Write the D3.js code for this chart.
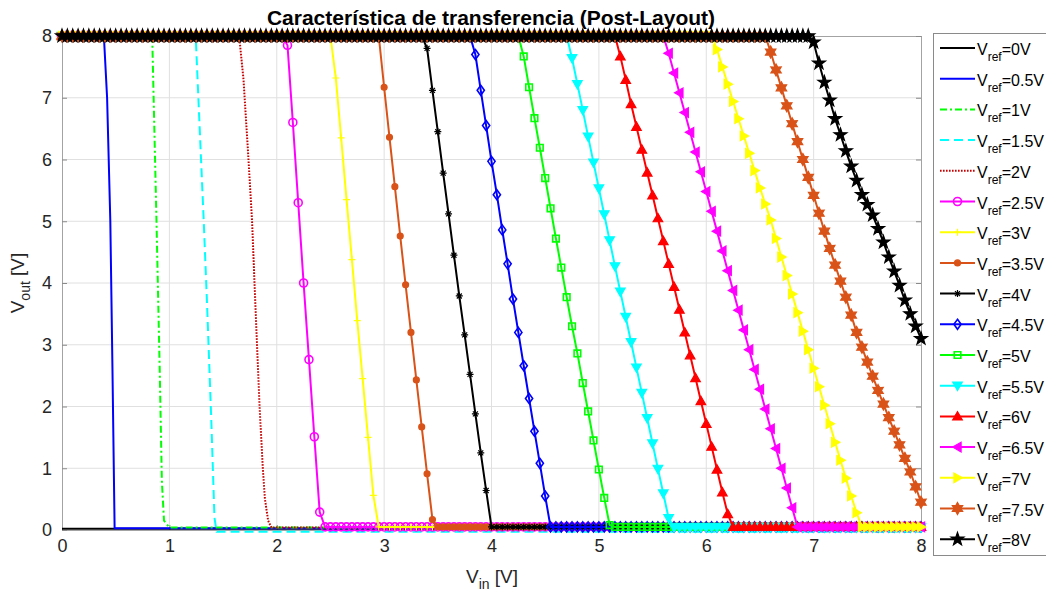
<!DOCTYPE html>
<html>
<head>
<meta charset="utf-8">
<script src="https://cdn.jsdelivr.net/npm/d3@7"></script>
<style>
  body { margin: 0; background: #fff; }
  svg text { font-family: "Liberation Sans", Arial, Helvetica, sans-serif; }
</style>
</head>
<body>
<div id="chart"></div>
<script>
// Vin sweep of the post-layout simulation: 0 .. 8 V, 0.05 V step
const vinSweep = d3.range(0, 161).map((i) => i / 20);

const vrefLabels = ["0V", "0.5V", "1V", "1.5V", "2V", "2.5V", "3V", "3.5V", "4V",
  "4.5V", "5V", "5.5V", "6V", "6.5V", "7V", "7.5V", "8V"];

// output level before and after the switching edge
const highLevel = [8, 8, 8, 8, 8, 8, 8, 8, 8, 8, 8, 8, 8, 8, 8, 8, 8];
const lowLevel = [0.02, 0.03, 0.04, -0.03, 0.04, 0.05, 0.05, 0.05, 0.05,
  0.05, 0.05, 0.04, 0.05, 0.05, 0.05, 0.05, 0.05];

// falling edge of each curve, [Vin, Vout]
const dropEdges = [
  [[0, 0.02]],
  [[0.39, 8], [0.42, 7.0], [0.45, 5.0], [0.47, 2.6], [0.49, 0.03]],
  [[0.84, 8], [0.86, 6.5], [0.88, 5.0], [0.91, 2.6], [0.93, 0.8], [0.95, 0.15], [1.0, 0.04]],
  [[1.245, 8], [1.28, 6.6], [1.32, 5.0], [1.35, 3.7], [1.39, 1.8], [1.42, 0.2], [1.44, -0.03]],
  [[1.65, 8], [1.69, 7.3], [1.73, 6.2], [1.77, 5.0], [1.8, 3.7], [1.84, 2.0], [1.87, 1.0],
    [1.89, 0.5], [1.92, 0.15], [1.95, 0.04]],
  [[2.05, 8], [2.1, 7.85], [2.15, 6.6], [2.2, 5.3], [2.25, 4.0], [2.3, 2.76], [2.35, 1.51],
    [2.4, 0.29], [2.45, 0.05]],
  [[2.5, 8], [2.55, 7.32], [2.6, 6.35], [2.65, 5.35], [2.7, 4.38], [2.75, 3.39], [2.8, 2.45],
    [2.85, 1.5], [2.9, 0.56], [2.95, 0.05]],
  [[2.95, 8], [3.0, 7.17], [3.05, 6.36], [3.1, 5.56], [3.15, 4.76], [3.2, 3.97], [3.25, 3.2],
    [3.3, 2.43], [3.35, 1.67], [3.4, 0.91], [3.45, 0.17], [3.5, 0.05]],
  [[3.35, 8], [3.4, 7.8], [3.45, 7.12], [3.5, 6.45], [3.55, 5.78], [3.6, 5.12], [3.65, 4.45],
    [3.7, 3.79], [3.75, 3.16], [3.8, 2.52], [3.85, 1.88], [3.9, 1.25], [3.95, 0.64], [4.0, 0.05]],
  [[3.8, 8], [3.85, 7.7], [3.9, 7.12], [3.95, 6.55], [4.0, 5.97], [4.05, 5.43], [4.1, 4.86],
    [4.15, 4.31], [4.2, 3.74], [4.25, 3.2], [4.3, 2.66], [4.35, 2.13], [4.4, 1.6], [4.45, 1.08],
    [4.5, 0.55], [4.55, 0.05]],
  [[4.25, 8], [4.3, 7.67], [4.35, 7.17], [4.4, 6.67], [4.45, 6.19], [4.5, 5.7], [4.55, 5.21],
    [4.6, 4.72], [4.65, 4.25], [4.7, 3.77], [4.75, 3.3], [4.8, 2.86], [4.85, 2.38], [4.9, 1.92],
    [4.95, 1.45], [5.0, 0.98], [5.05, 0.52], [5.1, 0.08]],
  [[4.7, 8], [4.75, 7.64], [4.8, 7.22], [4.85, 6.8], [4.9, 6.37], [4.95, 5.95], [5.0, 5.53],
    [5.05, 5.11], [5.1, 4.69], [5.15, 4.27], [5.2, 3.86], [5.25, 3.45], [5.3, 3.04], [5.35, 2.63],
    [5.4, 2.22], [5.45, 1.81], [5.5, 1.4], [5.55, 0.99], [5.6, 0.59], [5.65, 0.19], [5.7, 0.04]],
  [[5.15, 8], [5.2, 7.67], [5.25, 7.29], [5.3, 6.9], [5.35, 6.53], [5.4, 6.16], [5.45, 5.79],
    [5.5, 5.42], [5.55, 5.05], [5.6, 4.68], [5.65, 4.31], [5.7, 3.94], [5.75, 3.57], [5.8, 3.2],
    [5.85, 2.83], [5.9, 2.46], [5.95, 2.09], [6.0, 1.72], [6.05, 1.35], [6.1, 0.98], [6.15, 0.61],
    [6.2, 0.26], [6.25, 0.05]],
  [[5.6, 8], [5.65, 7.72], [5.7, 7.4], [5.75, 7.08], [5.8, 6.76], [5.85, 6.44], [5.9, 6.12],
    [5.95, 5.8], [6.0, 5.48], [6.05, 5.16], [6.1, 4.84], [6.15, 4.52], [6.2, 4.2], [6.25, 3.88],
    [6.3, 3.56], [6.35, 3.24], [6.4, 2.92], [6.45, 2.6], [6.5, 2.28], [6.55, 1.96], [6.6, 1.64],
    [6.65, 1.32], [6.7, 1.0], [6.75, 0.68], [6.8, 0.36], [6.85, 0.05]],
  [[6.05, 8], [6.1, 7.78], [6.15, 7.5], [6.2, 7.22], [6.25, 6.94], [6.3, 6.66], [6.35, 6.38],
    [6.4, 6.1], [6.45, 5.82], [6.5, 5.54], [6.55, 5.28], [6.6, 5.02], [6.65, 4.72], [6.7, 4.42],
    [6.75, 4.12], [6.8, 3.82], [6.85, 3.52], [6.9, 3.22], [6.95, 2.92], [7.0, 2.62], [7.05, 2.32],
    [7.1, 2.02], [7.15, 1.72], [7.2, 1.42], [7.25, 1.13], [7.3, 0.84], [7.35, 0.55], [7.4, 0.28],
    [7.45, 0.05]],
  [[6.55, 8], [6.6, 7.74], [6.65, 7.45], [6.7, 7.16], [6.75, 6.87], [6.8, 6.58], [6.85, 6.29],
    [6.9, 6.0], [6.95, 5.71], [7.0, 5.42], [7.05, 5.13], [7.1, 4.84], [7.15, 4.56], [7.2, 4.29],
    [7.25, 4.03], [7.3, 3.77], [7.35, 3.48], [7.4, 3.2], [7.45, 2.96], [7.5, 2.72], [7.55, 2.49],
    [7.6, 2.26], [7.65, 2.04], [7.7, 1.82], [7.75, 1.6], [7.8, 1.38], [7.85, 1.16], [7.9, 0.94],
    [7.95, 0.7], [8.0, 0.45]],
  [[6.95, 8], [7.0, 7.9], [7.05, 7.56], [7.1, 7.25], [7.15, 6.96], [7.2, 6.66], [7.25, 6.4],
    [7.3, 6.14], [7.35, 5.89], [7.4, 5.66], [7.45, 5.43], [7.5, 5.27], [7.55, 5.1], [7.6, 4.88],
    [7.65, 4.66], [7.7, 4.42], [7.75, 4.19], [7.8, 3.96], [7.85, 3.72], [7.9, 3.5], [7.95, 3.3],
    [8.0, 3.1]],
];

const xTicks = [0, 1, 2, 3, 4, 5, 6, 7, 8];
const yTicks = [0, 1, 2, 3, 4, 5, 6, 7, 8];

class TransferChart {
  constructor(_config) {
    this.config = {
      parentElement: _config.parentElement,
      containerWidth: 1046,
      containerHeight: 593,
      margin: { top: 36, right: 125, bottom: 63, left: 62 },
    };
    // line colour, dash pattern and marker of each Vref curve
    this.styles = [
      { color: "#000000", dash: null, marker: null },
      { color: "#0000ff", dash: null, marker: null },
      { color: "#00ff00", dash: "7,3,2,3", marker: null },
      { color: "#00ffff", dash: "9,5", marker: null },
      { color: "#c80000", dash: "1.6,1.4", marker: null },
      { color: "#ff00ff", dash: null, marker: "o" },
      { color: "#ffff00", dash: null, marker: "+" },
      { color: "#d95319", dash: null, marker: "." },
      { color: "#000000", dash: null, marker: "*" },
      { color: "#0000ff", dash: null, marker: "d" },
      { color: "#00ff00", dash: null, marker: "s" },
      { color: "#00ffff", dash: null, marker: "v" },
      { color: "#ff0000", dash: null, marker: "^" },
      { color: "#ff00ff", dash: null, marker: "<" },
      { color: "#ffff00", dash: null, marker: ">" },
      { color: "#d95319", dash: null, marker: "h" },
      { color: "#000000", dash: null, marker: "p" },
    ];
    this.initVis();
  }

  initVis() {
    let vis = this;
    const m = vis.config.margin;
    vis.config.width = vis.config.containerWidth - m.left - m.right;
    vis.config.height = vis.config.containerHeight - m.top - m.bottom;

    vis.xScale = d3.scaleLinear().domain([0, 8]).range([0, 859]);
    vis.yScale = d3.scaleLinear().domain([0, 8]).range([494, 0]);

    vis.svg = d3
      .select(vis.config.parentElement)
      .append("svg")
      .attr("width", vis.config.containerWidth)
      .attr("height", vis.config.containerHeight);

    vis.chart = vis.svg
      .append("g")
      .attr("transform", `translate(${m.left},${m.top})`);

    // grid
    vis.chart
      .append("g")
      .selectAll("line.gx")
      .data(xTicks.slice(1, -1))
      .join("line")
      .attr("x1", (d) => vis.xScale(d))
      .attr("x2", (d) => vis.xScale(d))
      .attr("y1", 0)
      .attr("y2", vis.yScale(0))
      .attr("stroke", "#e0e0e0");
    vis.chart
      .append("g")
      .selectAll("line.gy")
      .data(yTicks.slice(1, -1))
      .join("line")
      .attr("x1", 0)
      .attr("x2", vis.xScale(8))
      .attr("y1", (d) => vis.yScale(d))
      .attr("y2", (d) => vis.yScale(d))
      .attr("stroke", "#e0e0e0");

    // axes with inward ticks, box on all four sides
    const styleAxis = (g) => {
      g.select(".domain").attr("stroke", "#a3a3a3");
      g.selectAll(".tick line").attr("stroke", "#8a8a8a");
      g.selectAll(".tick text")
        .attr("fill", "#262626")
        .style("font-size", "18px");
    };
    vis.chart
      .append("g")
      .attr("transform", `translate(0,${vis.yScale(0)})`)
      .call(d3.axisBottom(vis.xScale).tickValues(xTicks).tickSizeInner(-5).tickSizeOuter(0).tickPadding(9))
      .call(styleAxis);
    vis.chart
      .append("g")
      .call(d3.axisLeft(vis.yScale).tickValues(yTicks).tickSizeInner(-5).tickSizeOuter(0).tickPadding(10))
      .call(styleAxis);
    vis.chart
      .append("g")
      .call(d3.axisTop(vis.xScale).tickValues(xTicks).tickSizeInner(-5).tickSizeOuter(0).tickFormat(""))
      .call(styleAxis);
    vis.chart
      .append("g")
      .attr("transform", `translate(${vis.xScale(8)},0)`)
      .call(d3.axisRight(vis.yScale).tickValues(yTicks).tickSizeInner(-5).tickSizeOuter(0).tickFormat(""))
      .call(styleAxis);

    // title and axis labels
    vis.svg
      .append("text")
      .attr("x", 491)
      .attr("y", 25)
      .attr("text-anchor", "middle")
      .attr("font-weight", "bold")
      .attr("font-size", "21px")
      .attr("fill", "#000")
      .text("Característica de transferencia (Post-Layout)");

    const xLabel = vis.svg
      .append("text")
      .attr("x", 492)
      .attr("y", 583)
      .attr("text-anchor", "middle")
      .attr("font-size", "19px")
      .attr("fill", "#262626");
    xLabel.append("tspan").text("V");
    xLabel.append("tspan").attr("dy", 6).attr("font-size", "14px").text("in");
    xLabel.append("tspan").attr("dy", -6).text(" [V]");

    const yLabel = vis.svg
      .append("text")
      .attr("transform", "translate(24,283) rotate(-90)")
      .attr("text-anchor", "middle")
      .attr("font-size", "19px")
      .attr("fill", "#262626");
    yLabel.append("tspan").text("V");
    yLabel.append("tspan").attr("dy", 6).attr("font-size", "14px").text("out");
    yLabel.append("tspan").attr("dy", -6).text(" [V]");

    vis.plot = vis.chart.append("g");
    vis.legend = vis.svg.append("g");
  }

  updateVis() {
    let vis = this;
    // high level until the edge, the read edge, then the low level
    vis.series = dropEdges.map((edge, i) => {
      const first = edge[0][0];
      const last = edge[edge.length - 1][0];
      const before = vinSweep.filter((v) => v < first - 1e-9).map((v) => [v, highLevel[i]]);
      const after = vinSweep.filter((v) => v > last + 1e-9).map((v) => [v, lowLevel[i]]);
      return { label: vrefLabels[i], style: vis.styles[i], points: before.concat(edge, after) };
    });
    vis.renderVis();
  }

  markerPath(type) {
    const star = (n, R, r) => {
      const pts = [];
      for (let k = 0; k < 2 * n; k++) {
        const a = -Math.PI / 2 + (k * Math.PI) / n;
        const rad = k % 2 === 0 ? R : r;
        pts.push([rad * Math.cos(a), rad * Math.sin(a)]);
      }
      return "M" + pts.map((p) => p[0].toFixed(2) + "," + p[1].toFixed(2)).join("L") + "Z";
    };
    switch (type) {
      case "o": return d3.symbol(d3.symbolCircle, 50)();
      case ".": return d3.symbol(d3.symbolCircle, 28)();
      case "+": return "M-3.5,0H3.5M0,-3.5V3.5";
      case "*": return "M-3.5,0H3.5M0,-3.5V3.5M-2.5,-2.5L2.5,2.5M-2.5,2.5L2.5,-2.5";
      case "d": return "M0,-5L3.6,0L0,5L-3.6,0Z";
      case "s": return "M-3.3,-3.3H3.3V3.3H-3.3Z";
      case "v": return "M-4.8,-3.6L4.8,-3.6L0,4.8Z";
      case "^": return "M-4.8,3.6L4.8,3.6L0,-4.8Z";
      case "<": return "M3.6,-4.8L3.6,4.8L-4.8,0Z";
      case ">": return "M-3.6,-4.8L-3.6,4.8L4.8,0Z";
      case "h": return star(6, 6, 3.4);
      case "p": return star(5, 6.8, 2.7);
    }
    return null;
  }

  markerFill(type, color) {
    return ["o", "+", "*", "d", "s"].includes(type) ? "none" : color;
  }

  drawMarkers(g, points, style, x, y) {
    let vis = this;
    g.selectAll("path.mk")
      .data(points)
      .join("path")
      .attr("class", "mk")
      .attr("transform", (d) => `translate(${x(d)},${y(d)})`)
      .attr("d", vis.markerPath(style.marker))
      .attr("fill", vis.markerFill(style.marker, style.color))
      .attr("stroke", style.color)
      .attr("stroke-width", ["o", "d", "s"].includes(style.marker) ? 1.6 : 1.2);
  }

  renderVis() {
    let vis = this;
    const line = d3
      .line()
      .x((d) => vis.xScale(d[0]))
      .y((d) => vis.yScale(d[1]));

    const groups = vis.plot
      .selectAll("g.series")
      .data(vis.series)
      .join("g")
      .attr("class", "series");

    groups.each(function (s) {
      const g = d3.select(this);
      g.append("path")
        .attr("d", line(s.points))
        .attr("fill", "none")
        .attr("stroke", s.style.color)
        .attr("stroke-width", 2)
        .attr("stroke-dasharray", s.style.dash);
      if (s.style.marker) {
        vis.drawMarkers(g, s.points, s.style,
          (d) => vis.xScale(d[0]), (d) => vis.yScale(d[1]));
      }
    });

    // legend box
    const top = 33;
    const step = 30.7;
    vis.legend
      .append("rect")
      .attr("x", 933.5)
      .attr("y", top + 0.5)
      .attr("width", 140)
      .attr("height", 522)
      .attr("fill", "#fff")
      .attr("stroke", "#8a8a8a");

    const items = vis.legend
      .selectAll("g.item")
      .data(vis.series)
      .join("g")
      .attr("class", "item")
      .attr("transform", (d, i) => `translate(0,${48 + i * step})`);

    items.each(function (s) {
      const g = d3.select(this);
      g.append("line")
        .attr("x1", 940)
        .attr("x2", 975)
        .attr("stroke", s.style.color)
        .attr("stroke-width", 2)
        .attr("stroke-dasharray", s.style.dash);
      if (s.style.marker) {
        vis.drawMarkers(g, [0], s.style, () => 957.5, () => 0);
      }
      const t = g.append("text")
        .attr("x", 977)
        .attr("y", 7)
        .attr("font-size", "16px")
        .attr("fill", "#000");
      t.append("tspan").text("V");
      t.append("tspan").attr("dy", 6).attr("font-size", "12px").text("ref");
      t.append("tspan").attr("dy", -6).text("=" + s.label);
    });
  }
}

const chart = new TransferChart({ parentElement: "#chart" });
chart.updateVis();
</script>
</body>
</html>
